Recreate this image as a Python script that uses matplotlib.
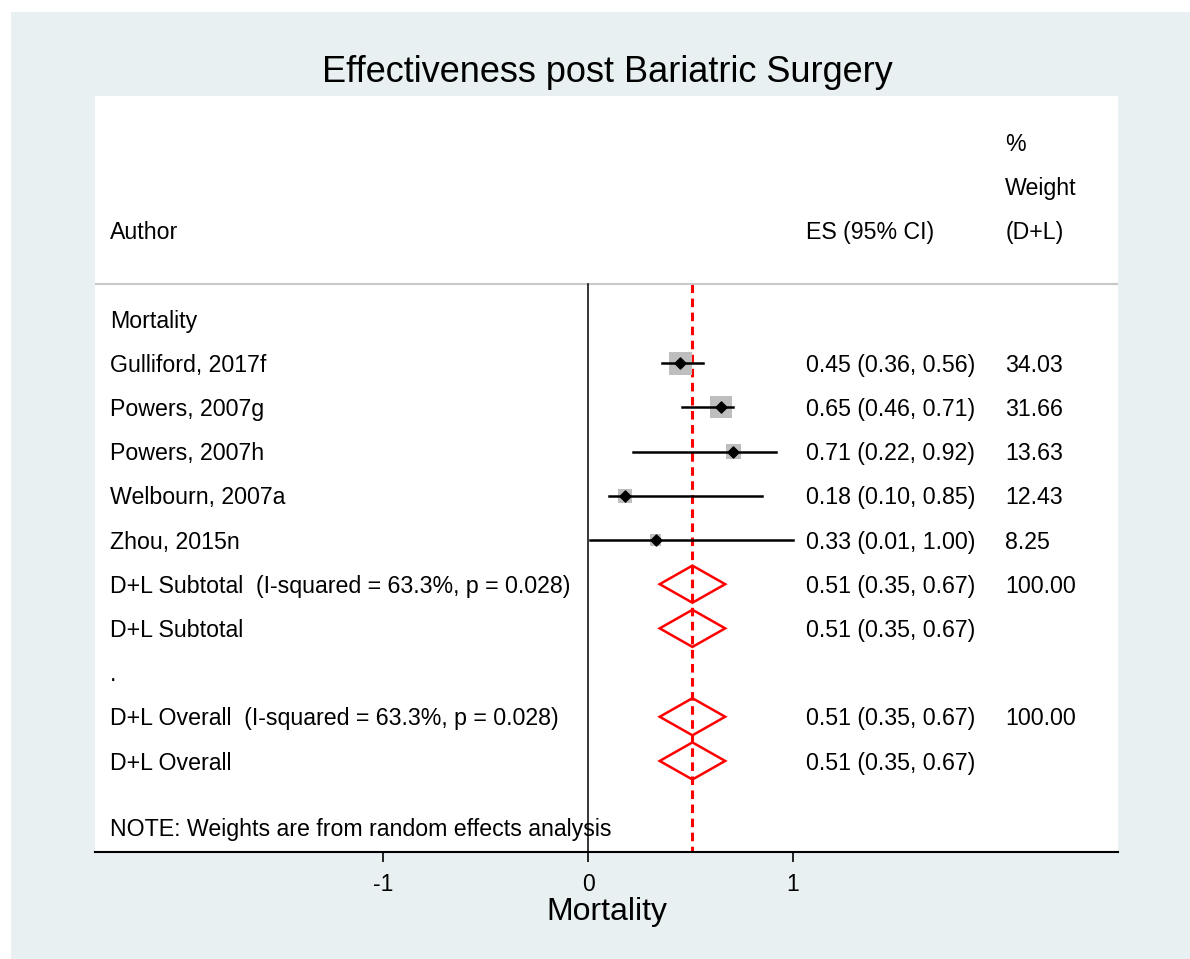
import matplotlib
matplotlib.use("Agg")
from matplotlib import pyplot as plt
from matplotlib.patches import Polygon, Rectangle

plt.rcParams['font.family'] = ['Liberation Sans', 'DejaVu Sans']

# study-level data
studies = ["Gulliford, 2017f", "Powers, 2007g", "Powers, 2007h",
           "Welbourn, 2007a", "Zhou, 2015n"]
es = [0.45, 0.65, 0.71, 0.18, 0.33]
lo = [0.36, 0.46, 0.22, 0.10, 0.01]
hi = [0.56, 0.71, 0.92, 0.85, 1.00]
weights = [34.03, 31.66, 13.63, 12.43, 8.25]

# pooled estimate (D+L)
pooled = (0.51, 0.35, 0.67)
pooled_rows = [
    ("D+L Subtotal  (I-squared = 63.3%, p = 0.028)", "100.00"),
    ("D+L Subtotal", ""),
    (".", None),
    ("D+L Overall  (I-squared = 63.3%, p = 0.028)", "100.00"),
    ("D+L Overall", ""),
]
xticks = [-1, 0, 1]

BG = '#e8f0f2'
fig = plt.figure(figsize=(11.9, 9.59), dpi=100)
fig.patch.set_facecolor('white')
fig.add_artist(Rectangle((11 / 1190, 0), 1, 1 - 12 / 959, transform=fig.transFigure,
                         facecolor=BG, edgecolor='none', zorder=-10))

ax = fig.add_axes([95 / 1190, 1 - 852 / 959, (1118 - 95) / 1190, (852 - 96) / 959])
ax.set_facecolor('white')
ax.set_xlim(-2.41, 2.59)
ax.set_ylim(12.06, -5.045)
for s in ['top', 'left', 'right']:
    ax.spines[s].set_visible(False)
ax.spines['bottom'].set_linewidth(1.5)
ax.set_yticks([])
ax.set_xticks(xticks)
ax.set_xticklabels([str(t) for t in xticks], fontsize=16.5)
ax.tick_params(axis='x', length=7, width=1.2, pad=8)
ax.set_xlabel("Mortality", fontsize=23, labelpad=1)

fs = 16.7
dy = 0.05  # small nudge so text sits level with the marks
x_lab, x_es, x_w = -2.337, 1.066, 2.039

# headers
ax.text(x_lab, -2 + dy, "Author", fontsize=fs, va='center')
ax.text(x_es, -2 + dy, "ES (95% CI)", fontsize=fs, va='center')
ax.text(x_w, -4 + dy, "%", fontsize=fs, va='center')
ax.text(x_w, -3 + dy, "Weight", fontsize=fs, va='center')
ax.text(x_w, -2 + dy, "(D+L)", fontsize=fs, va='center')
ax.axhline(-0.79, color='#c8c8c8', lw=1.5)

# reference lines
ax.plot([0, 0], [-0.79, 12.06], color='black', lw=1.1)
ax.plot([pooled[0], pooled[0]], [-0.79, 12.06], color='red', lw=2.2,
        linestyle=(0, (2.8, 1.8)), zorder=1)

ax.text(x_lab, 0 + dy, "Mortality", fontsize=fs, va='center')

wmax = max(weights)
for i, name in enumerate(studies):
    r = i + 1
    side = 23 * (weights[i] / wmax) ** 0.5 * 0.72
    ax.scatter([es[i]], [r], marker='s', s=side ** 2, color='#bebebe', zorder=2,
               edgecolors='none')
    ax.plot([lo[i], hi[i]], [r, r], color='black', lw=1.8, zorder=3)
    ax.scatter([es[i]], [r], marker='D', s=32, color='black', zorder=4)
    ax.text(x_lab, r + dy, name, fontsize=fs, va='center')
    ax.text(x_es, r + dy, f"{es[i]:.2f} ({lo[i]:.2f}, {hi[i]:.2f})", fontsize=fs, va='center')
    ax.text(x_w, r + dy, f"{weights[i]:.2f}", fontsize=fs, va='center')

for j, (label, wt) in enumerate(pooled_rows):
    r = len(studies) + 1 + j
    ax.text(x_lab, r + dy, label, fontsize=fs, va='center')
    if wt is None:
        continue
    p, pl, ph = pooled
    ax.add_patch(Polygon([(pl, r), (p, r - 0.42), (ph, r), (p, r + 0.42)],
                         closed=True, fill=False, edgecolor='red', lw=1.8, zorder=3))
    ax.text(x_es, r + dy, f"{p:.2f} ({pl:.2f}, {ph:.2f})", fontsize=fs, va='center')
    if wt:
        ax.text(x_w, r + dy, wt, fontsize=fs, va='center')

ax.text(x_lab, 11.49 + dy, "NOTE: Weights are from random effects analysis", fontsize=fs, va='center')

fig.text(607 / 1190, 1 - 72 / 959, "Effectiveness post Bariatric Surgery",
         fontsize=26, ha='center', va='center')

fig.savefig("out.png", dpi=100, facecolor=fig.get_facecolor())
